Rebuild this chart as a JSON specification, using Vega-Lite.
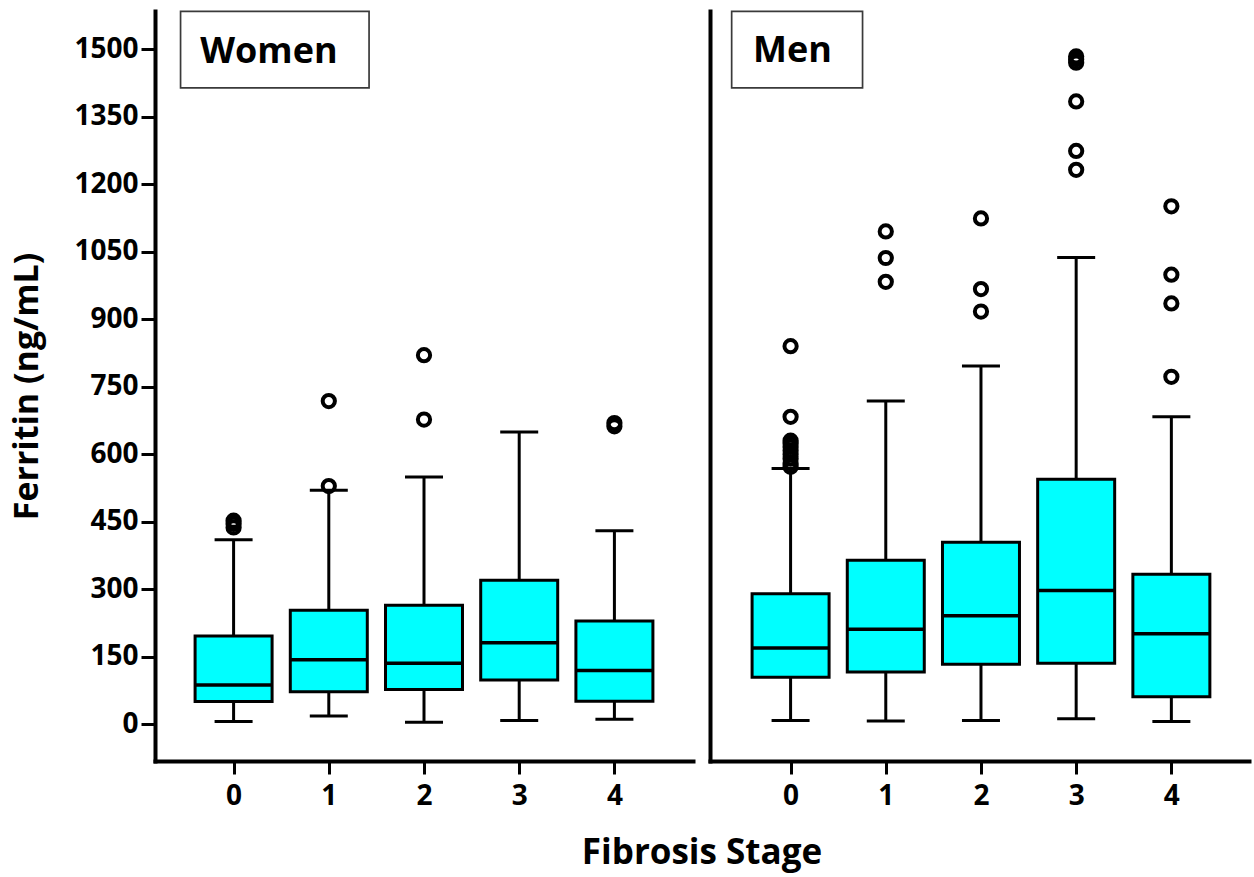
{
  "$schema": "https://vega.github.io/schema/vega-lite/v6.json",
  "background": "white",
  "padding": {"left": 10, "top": 10, "right": 5, "bottom": 5},
  "config": {"view": {"stroke": null}, "font": "Open Sans"},
  "title": {"text": "Fibrosis Stage", "orient": "bottom", "anchor": "middle", "fontSize": 35, "fontWeight": "bold", "font": "Open Sans", "offset": 26, "dx": 72, "color": "black"},
  "spacing": 17,
  "datasets": {
    "stats": [
      {"sex": "Women", "stage": 0, "lo": 6, "q1": 50, "med": 87, "q3": 196, "hi": 410},
      {"sex": "Women", "stage": 1, "lo": 18, "q1": 72, "med": 143, "q3": 253, "hi": 520},
      {"sex": "Women", "stage": 2, "lo": 4, "q1": 77, "med": 135, "q3": 264, "hi": 549},
      {"sex": "Women", "stage": 3, "lo": 8, "q1": 98, "med": 181, "q3": 320, "hi": 649},
      {"sex": "Women", "stage": 4, "lo": 11, "q1": 51, "med": 119, "q3": 229, "hi": 430},
      {"sex": "Men", "stage": 0, "lo": 8, "q1": 104, "med": 169, "q3": 290, "hi": 568},
      {"sex": "Men", "stage": 1, "lo": 7, "q1": 116, "med": 211, "q3": 364, "hi": 718},
      {"sex": "Men", "stage": 2, "lo": 8, "q1": 133, "med": 241, "q3": 404, "hi": 796},
      {"sex": "Men", "stage": 3, "lo": 12, "q1": 135, "med": 297, "q3": 544, "hi": 1037},
      {"sex": "Men", "stage": 4, "lo": 6, "q1": 61, "med": 201, "q3": 333, "hi": 683}
    ],
    "outliers": [
      {"sex": "Women", "stage": 0, "value": 437},
      {"sex": "Women", "stage": 0, "value": 445},
      {"sex": "Women", "stage": 0, "value": 452},
      {"sex": "Women", "stage": 1, "value": 529},
      {"sex": "Women", "stage": 1, "value": 718},
      {"sex": "Women", "stage": 2, "value": 677},
      {"sex": "Women", "stage": 2, "value": 820},
      {"sex": "Women", "stage": 4, "value": 662},
      {"sex": "Women", "stage": 4, "value": 669},
      {"sex": "Men", "stage": 0, "value": 572},
      {"sex": "Men", "stage": 0, "value": 580},
      {"sex": "Men", "stage": 0, "value": 590},
      {"sex": "Men", "stage": 0, "value": 600},
      {"sex": "Men", "stage": 0, "value": 608},
      {"sex": "Men", "stage": 0, "value": 616},
      {"sex": "Men", "stage": 0, "value": 624},
      {"sex": "Men", "stage": 0, "value": 630},
      {"sex": "Men", "stage": 0, "value": 683},
      {"sex": "Men", "stage": 0, "value": 840},
      {"sex": "Men", "stage": 1, "value": 983},
      {"sex": "Men", "stage": 1, "value": 1036},
      {"sex": "Men", "stage": 1, "value": 1095},
      {"sex": "Men", "stage": 2, "value": 917},
      {"sex": "Men", "stage": 2, "value": 967},
      {"sex": "Men", "stage": 2, "value": 1124},
      {"sex": "Men", "stage": 3, "value": 1232},
      {"sex": "Men", "stage": 3, "value": 1274},
      {"sex": "Men", "stage": 3, "value": 1384},
      {"sex": "Men", "stage": 3, "value": 1470},
      {"sex": "Men", "stage": 3, "value": 1478},
      {"sex": "Men", "stage": 3, "value": 1484},
      {"sex": "Men", "stage": 4, "value": 772},
      {"sex": "Men", "stage": 4, "value": 935},
      {"sex": "Men", "stage": 4, "value": 999},
      {"sex": "Men", "stage": 4, "value": 1151}
    ]
  },
  "hconcat": [
    {
      "width": 538,
      "height": 750,
      "encoding": {
        "x": {"field": "stage", "type": "quantitative",
          "scale": {"domain": [-0.773, 4.773], "nice": false, "zero": false},
          "axis": {"values": [0, 1, 2, 3, 4], "format": "d", "title": null, "grid": false, "domainWidth": 4, "domainColor": "black", "domainCap": "square", "tickWidth": 3, "tickSize": 13, "tickColor": "black", "labelFontSize": 28, "labelFontWeight": "bold", "labelColor": "black", "labelPadding": 8, "labelFont": "Open Sans"}}
      },
      "layer": [
        {
          "data": {"name": "stats"},
          "transform": [{"filter": "datum.sex === 'Women'"}],
          "mark": {"type": "rule", "strokeWidth": 3, "color": "black"},
          "encoding": {
            "y": {"field": "lo", "type": "quantitative",
              "scale": {"domain": [-82, 1585], "nice": false, "zero": false},
              "axis": {"values": [0, 150, 300, 450, 600, 750, 900, 1050, 1200, 1350, 1500], "format": "d", "title": "Ferritin (ng/mL)", "titleFontSize": 34, "titleFontWeight": "bold", "titleColor": "black", "titleFont": "Open Sans", "titlePadding": 29, "grid": false, "domainWidth": 4, "domainColor": "black", "domainCap": "square", "tickWidth": 3, "tickSize": 14, "tickColor": "black", "labelFontSize": 28, "labelFontWeight": "bold", "labelColor": "black", "labelPadding": 3, "labelFont": "Open Sans"}},
            "y2": {"field": "hi"}
          }
        },
        {
          "data": {"name": "stats"},
          "transform": [{"filter": "datum.sex === 'Women'"}],
          "mark": {"type": "bar", "orient": "vertical", "size": 77, "fill": "#00FFFF", "stroke": "black", "strokeWidth": 3},
          "encoding": {
            "y": {"field": "q1", "type": "quantitative"},
            "y2": {"field": "q3"}
          }
        },
        {
          "data": {"name": "stats"},
          "transform": [{"filter": "datum.sex === 'Women'"}],
          "mark": {"type": "tick", "orient": "horizontal", "size": 77, "thickness": 3.5, "color": "black", "opacity": 1},
          "encoding": {"y": {"field": "med", "type": "quantitative"}}
        },
        {
          "data": {"name": "stats"},
          "transform": [{"filter": "datum.sex === 'Women'"}],
          "mark": {"type": "tick", "orient": "horizontal", "size": 38, "thickness": 3, "color": "black", "opacity": 1},
          "encoding": {"y": {"field": "lo", "type": "quantitative"}}
        },
        {
          "data": {"name": "stats"},
          "transform": [{"filter": "datum.sex === 'Women'"}],
          "mark": {"type": "tick", "orient": "horizontal", "size": 38, "thickness": 3, "color": "black", "opacity": 1},
          "encoding": {"y": {"field": "hi", "type": "quantitative"}}
        },
        {
          "data": {"name": "outliers"},
          "transform": [{"filter": "datum.sex === 'Women'"}],
          "mark": {"type": "point", "shape": "circle", "size": 150, "filled": false, "stroke": "black", "strokeWidth": 4, "opacity": 1},
          "encoding": {"y": {"field": "value", "type": "quantitative"}}
        },
        {
          "data": {"values": [{"label": "Women", "x1": -0.557, "x2": 1.423, "y1": 1414, "y2": 1584}]},
          "mark": {"type": "rect", "fill": "white", "stroke": "#3a3a3a", "strokeWidth": 1.7},
          "encoding": {
            "x": {"field": "x1", "type": "quantitative"},
            "x2": {"field": "x2"},
            "y": {"field": "y1", "type": "quantitative"},
            "y2": {"field": "y2"}
          }
        },
        {
          "data": {"values": [{"label": "Women", "tx": 0.371, "ty": 1470}]},
          "mark": {"type": "text", "fontSize": 36, "fontWeight": "bold", "font": "Open Sans", "color": "black", "align": "center", "baseline": "alphabetic"},
          "encoding": {
            "x": {"field": "tx", "type": "quantitative"},
            "y": {"field": "ty", "type": "quantitative"},
            "text": {"field": "label"}
          }
        }
      ]
    },
    {
      "width": 539,
      "height": 750,
      "encoding": {
        "x": {"field": "stage", "type": "quantitative",
          "scale": {"domain": [-0.794, 4.763], "nice": false, "zero": false},
          "axis": {"values": [0, 1, 2, 3, 4], "format": "d", "title": null, "grid": false, "domainWidth": 4, "domainColor": "black", "domainCap": "square", "tickWidth": 3, "tickSize": 13, "tickColor": "black", "labelFontSize": 28, "labelFontWeight": "bold", "labelColor": "black", "labelPadding": 8, "labelFont": "Open Sans"}}
      },
      "layer": [
        {
          "data": {"name": "stats"},
          "transform": [{"filter": "datum.sex === 'Men'"}],
          "mark": {"type": "rule", "strokeWidth": 3, "color": "black"},
          "encoding": {
            "y": {"field": "lo", "type": "quantitative",
              "scale": {"domain": [-82, 1585], "nice": false, "zero": false},
              "axis": {"title": null, "grid": false, "ticks": false, "labels": false, "domainWidth": 4, "domainColor": "black", "domainCap": "square"}},
            "y2": {"field": "hi"}
          }
        },
        {
          "data": {"name": "stats"},
          "transform": [{"filter": "datum.sex === 'Men'"}],
          "mark": {"type": "bar", "orient": "vertical", "size": 77, "fill": "#00FFFF", "stroke": "black", "strokeWidth": 3},
          "encoding": {
            "y": {"field": "q1", "type": "quantitative"},
            "y2": {"field": "q3"}
          }
        },
        {
          "data": {"name": "stats"},
          "transform": [{"filter": "datum.sex === 'Men'"}],
          "mark": {"type": "tick", "orient": "horizontal", "size": 77, "thickness": 3.5, "color": "black", "opacity": 1},
          "encoding": {"y": {"field": "med", "type": "quantitative"}}
        },
        {
          "data": {"name": "stats"},
          "transform": [{"filter": "datum.sex === 'Men'"}],
          "mark": {"type": "tick", "orient": "horizontal", "size": 38, "thickness": 3, "color": "black", "opacity": 1},
          "encoding": {"y": {"field": "lo", "type": "quantitative"}}
        },
        {
          "data": {"name": "stats"},
          "transform": [{"filter": "datum.sex === 'Men'"}],
          "mark": {"type": "tick", "orient": "horizontal", "size": 38, "thickness": 3, "color": "black", "opacity": 1},
          "encoding": {"y": {"field": "hi", "type": "quantitative"}}
        },
        {
          "data": {"name": "outliers"},
          "transform": [{"filter": "datum.sex === 'Men'"}],
          "mark": {"type": "point", "shape": "circle", "size": 150, "filled": false, "stroke": "black", "strokeWidth": 4, "opacity": 1},
          "encoding": {"y": {"field": "value", "type": "quantitative"}}
        },
        {
          "data": {"values": [{"label": "Men", "x1": -0.619, "x2": 0.756, "y1": 1414, "y2": 1584}]},
          "mark": {"type": "rect", "fill": "white", "stroke": "#3a3a3a", "strokeWidth": 1.7},
          "encoding": {
            "x": {"field": "x1", "type": "quantitative"},
            "x2": {"field": "x2"},
            "y": {"field": "y1", "type": "quantitative"},
            "y2": {"field": "y2"}
          }
        },
        {
          "data": {"values": [{"label": "Men", "tx": 0.02, "ty": 1472}]},
          "mark": {"type": "text", "fontSize": 36, "fontWeight": "bold", "font": "Open Sans", "color": "black", "align": "center", "baseline": "alphabetic"},
          "encoding": {
            "x": {"field": "tx", "type": "quantitative"},
            "y": {"field": "ty", "type": "quantitative"},
            "text": {"field": "label"}
          }
        }
      ]
    }
  ]
}
